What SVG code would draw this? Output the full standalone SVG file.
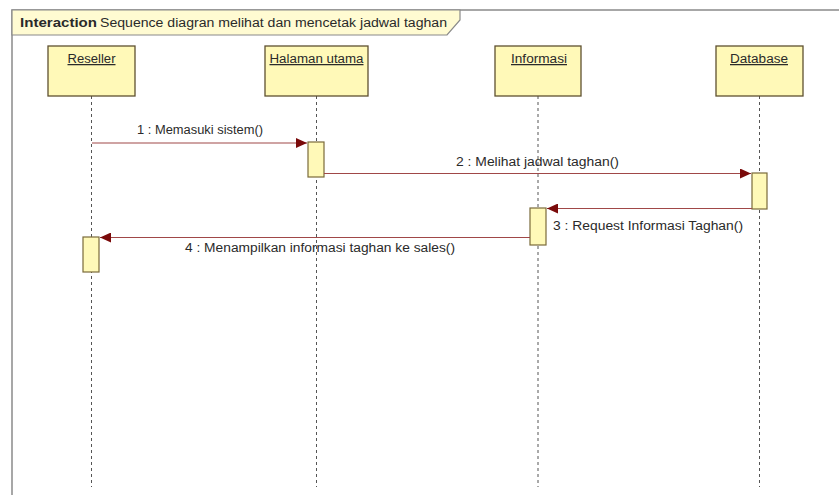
<svg xmlns="http://www.w3.org/2000/svg" width="839" height="495" viewBox="0 0 839 495">
<style>
text{font-family:"Liberation Sans",Arial,sans-serif;fill:#2a2a2a;font-size:12.5px}
.box{fill:#fff9b8;stroke:#5e5030;stroke-width:1.3}
.act{fill:#fff9b8;stroke:#7a6a3a;stroke-width:1.2}
.life{stroke:#555;stroke-width:1;stroke-dasharray:3,3}
.msg{stroke:#a04848;stroke-width:1.2;fill:none}
.lbl{text-anchor:middle;text-decoration:underline}
</style>
<defs>
<marker id="ah" markerWidth="12" markerHeight="10" refX="11" refY="5" orient="auto" markerUnits="userSpaceOnUse">
<path d="M0,0 L11,5 L0,10 Z" fill="#7a0a0a"/>
</marker>
</defs>
<rect x="0" y="0" width="839" height="495" fill="#fff"/>
<g id="frame">
<rect x="12" y="10" width="840" height="490" fill="none" stroke="#8a8a8a" stroke-width="1.5"/>
<path d="M12,10 L460,10 L460,20 L447,35 L12,35 Z" fill="#fffbd2" stroke="#8a8a8a" stroke-width="1.2"/>
<text x="20" y="27" font-weight="bold" textLength="77" lengthAdjust="spacingAndGlyphs">Interaction</text>
<text x="100" y="27" textLength="347" lengthAdjust="spacingAndGlyphs">Sequence diagran melihat dan mencetak jadwal taghan</text>
</g>
<g id="lifelines">
<line class="life" x1="91.5" y1="96" x2="91.5" y2="487"/>
<line class="life" x1="316.5" y1="96" x2="316.5" y2="487"/>
<line class="life" x1="538" y1="96" x2="538" y2="487"/>
<line class="life" x1="759.5" y1="96" x2="759.5" y2="487"/>
</g>
<g id="reseller">
<rect class="box" x="48" y="46" width="87" height="50"/>
<text class="lbl" x="91.5" y="63" textLength="48" lengthAdjust="spacingAndGlyphs">Reseller</text>
</g>
<g id="halaman">
<rect class="box" x="265" y="46" width="103" height="50"/>
<text class="lbl" x="316.5" y="63" textLength="94" lengthAdjust="spacingAndGlyphs">Halaman utama</text>
</g>
<g id="informasi">
<rect class="box" x="495" y="46" width="86" height="50"/>
<text class="lbl" x="539" y="63" textLength="56" lengthAdjust="spacingAndGlyphs">Informasi</text>
</g>
<g id="database">
<rect class="box" x="716" y="46" width="87" height="50"/>
<text class="lbl" x="759" y="63" textLength="58" lengthAdjust="spacingAndGlyphs">Database</text>
</g>
<g id="activations">
<rect class="act" x="308" y="142" width="16" height="35"/>
<rect class="act" x="752" y="173" width="15" height="36"/>
<rect class="act" x="530" y="208" width="16" height="37"/>
<rect class="act" x="83" y="237" width="16" height="35"/>
</g>
<g id="connectors">
<line class="msg" x1="92" y1="143" x2="307" y2="143" marker-end="url(#ah)"/>
<text x="137" y="134" textLength="126" lengthAdjust="spacingAndGlyphs">1 : Memasuki sistem()</text>
<line class="msg" x1="324" y1="173.5" x2="751" y2="173.5" marker-end="url(#ah)"/>
<text x="456" y="166" textLength="163" lengthAdjust="spacingAndGlyphs">2 : Melihat jadwal taghan()</text>
<line class="msg" x1="752" y1="208.5" x2="547" y2="208.5" marker-end="url(#ah)"/>
<text x="553" y="230" textLength="190" lengthAdjust="spacingAndGlyphs">3 : Request Informasi Taghan()</text>
<line class="msg" x1="530" y1="237.5" x2="100" y2="237.5" marker-end="url(#ah)"/>
<text x="185" y="252" textLength="270" lengthAdjust="spacingAndGlyphs">4 : Menampilkan informasi taghan ke sales()</text>
</g>
</svg>
